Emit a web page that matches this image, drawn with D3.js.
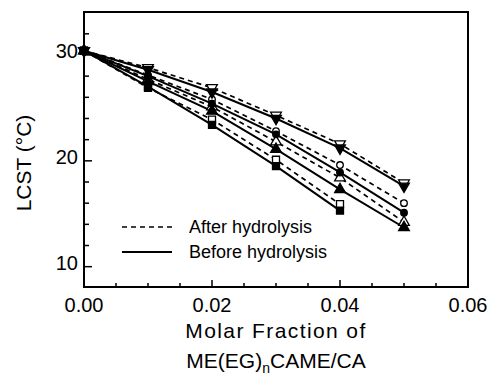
<!DOCTYPE html>
<html>
<head>
<meta charset="utf-8">
<script src="https://cdn.jsdelivr.net/npm/d3@7"></script>
<style>
  body { margin: 0; background: #fff; }
  text { font-family: "Liberation Sans", Arial, sans-serif; fill: #000; }
</style>
</head>
<body>
<div id="vis-container"></div>
<script>
let width = 493, height = 380;

// molar fraction of ME(EG)nCAME/CA
let xs = [0, 0.01, 0.02, 0.03, 0.04, 0.05];

// LCST after hydrolysis (open markers, dashed)
let after_down = [30.4, 28.8, 26.9, 24.3, 21.6, 17.9];
let after_circle = [30.4, 28.1, 25.8, 22.8, 19.6, 16.0];
let after_up = [30.4, 27.7, 25.1, 21.8, 18.4, 14.2];
let after_square = [30.4, 26.9, 23.9, 20.1, 15.9];

// LCST before hydrolysis (filled markers, solid)
let before_down = [30.4, 28.6, 26.5, 24.0, 21.2, 17.6];
let before_circle = [30.4, 28.0, 25.4, 22.5, 18.9, 15.1];
let before_up = [30.4, 27.5, 24.7, 21.1, 17.3, 13.7];
let before_square = [30.4, 27.0, 23.4, 19.5, 15.3];

let x_ticks = [0, 0.02, 0.04, 0.06];
let x_tick_labels = ["0.00", "0.02", "0.04", "0.06"];
let y_ticks = [10, 20, 30];
let legend_labels = ["After hydrolysis", "Before hydrolysis"];

let series = [
  {vals: after_down, shape: "down", filled: false, dashed: true},
  {vals: after_circle, shape: "circle", filled: false, dashed: true},
  {vals: after_up, shape: "up", filled: false, dashed: true},
  {vals: after_square, shape: "square", filled: false, dashed: true},
  {vals: before_down, shape: "down", filled: true, dashed: false},
  {vals: before_circle, shape: "circle", filled: true, dashed: false},
  {vals: before_up, shape: "up", filled: true, dashed: false},
  {vals: before_square, shape: "square", filled: true, dashed: false}
];

let plot_left = 84, plot_right = 468, plot_top = 12, plot_bottom = 287;

let x = d3.scaleLinear().domain([0, 0.06]).range([plot_left, plot_right]);
let y = d3.scaleLinear().domain([8.08, 34.06]).range([plot_bottom, plot_top]);

let svg = d3.select("#vis-container").append("svg")
  .attr("width", width)
  .attr("height", height);

// lines
let line = d3.line().x((d, i) => x(xs[i])).y(d => y(d));

series.forEach(s => {
  svg.append("path")
    .datum(s.vals)
    .attr("d", line)
    .attr("fill", "none")
    .attr("stroke", "#000")
    .attr("stroke-width", s.dashed ? 1.7 : 2)
    .attr("stroke-dasharray", s.dashed ? "5,4" : null);
});

// markers
function symbolPath(shape) {
  if (shape === "circle") return d3.symbol(d3.symbolCircle, 34)();
  if (shape === "square") return d3.symbol(d3.symbolSquare, 49)();
  return d3.symbol(d3.symbolTriangle, 50)();
}

series.forEach(s => {
  svg.append("g")
    .selectAll("path")
    .data(s.vals)
    .enter().append("path")
      .attr("d", symbolPath(s.shape))
      .attr("transform", (d, i) => "translate(" + x(xs[i]) + "," + y(d) + ")" + (s.shape === "down" ? " rotate(180)" : ""))
      .attr("fill", s.filled ? "#000" : "#fff")
      .attr("stroke", "#000")
      .attr("stroke-width", 1.3);
});

// frame
svg.append("rect")
  .attr("x", plot_left).attr("y", plot_top)
  .attr("width", plot_right - plot_left).attr("height", plot_bottom - plot_top)
  .attr("fill", "none")
  .attr("stroke", "#000")
  .attr("stroke-width", 2);

// x ticks (inward)
let x_minor = d3.range(0, 0.0601, 0.005);
svg.append("g").selectAll("line")
  .data(x_minor)
  .enter().append("line")
    .attr("x1", d => x(d)).attr("x2", d => x(d))
    .attr("y1", plot_bottom)
    .attr("y2", (d, i) => plot_bottom - (i % 4 === 0 ? 7 : 4))
    .attr("stroke", "#000")
    .attr("stroke-width", 1.5);

svg.append("g").selectAll("text")
  .data(x_ticks)
  .enter().append("text")
    .attr("x", d => x(d))
    .attr("y", 312)
    .attr("text-anchor", "middle")
    .style("font-size", "20px")
    .text((d, i) => x_tick_labels[i]);

// y ticks (inward)
let y_minor = d3.range(10, 34, 2);
svg.append("g").selectAll("line")
  .data(y_minor)
  .enter().append("line")
    .attr("x1", plot_left)
    .attr("x2", d => plot_left + (d % 10 === 0 ? 8 : 5))
    .attr("y1", d => y(d)).attr("y2", d => y(d))
    .attr("stroke", "#000")
    .attr("stroke-width", 1.5);

svg.append("g").selectAll("text")
  .data(y_ticks)
  .enter().append("text")
    .attr("x", 78)
    .attr("y", d => y(d) + 3)
    .attr("text-anchor", "end")
    .style("font-size", "20px")
    .text(d => d);

// axis titles
svg.append("text")
  .attr("transform", "translate(31," + 163 + ") rotate(-90)")
  .attr("text-anchor", "middle")
  .style("font-size", "21px")
  .text("LCST (°C)");

svg.append("text")
  .attr("x", x(0.03))
  .attr("y", 338)
  .attr("text-anchor", "middle")
  .style("font-size", "21px")
  .style("letter-spacing", "1.4px")
  .text("Molar Fraction of");

let t2 = svg.append("text")
  .attr("x", x(0.03))
  .attr("y", 368)
  .attr("text-anchor", "middle")
  .style("font-size", "21px");
t2.append("tspan").text("ME(EG)");
t2.append("tspan").attr("dy", 5).style("font-size", "14px").text("n");
t2.append("tspan").attr("dy", -5).text("CAME/CA");

// legend
let legend = svg.selectAll("g.legend")
  .data(legend_labels)
  .enter().append("g")
  .attr("class", "legend");

legend.append("line")
  .attr("x1", 122).attr("x2", 172)
  .attr("y1", (d, i) => 227 + i * 25)
  .attr("y2", (d, i) => 227 + i * 25)
  .attr("stroke", "#000")
  .attr("stroke-width", (d, i) => i === 0 ? 1.7 : 2)
  .attr("stroke-dasharray", (d, i) => i === 0 ? "5,4" : null);

legend.append("text")
  .attr("x", 189)
  .attr("y", (d, i) => 233 + i * 25)
  .style("font-size", "18px")
  .text(d => d);
</script>
</body>
</html>
